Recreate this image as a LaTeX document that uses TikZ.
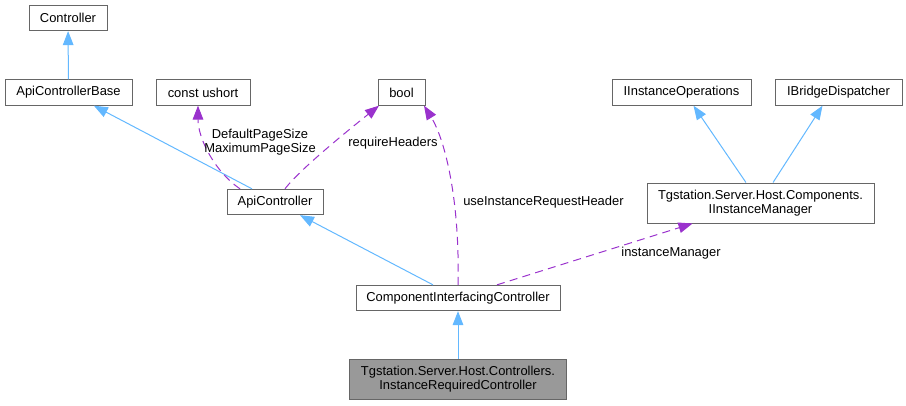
\documentclass[tikz,border=0pt]{standalone}
\usepackage{fontspec}
\setmainfont{Liberation Sans}
\usepackage{tikz}
\usetikzlibrary{arrows.meta}

\definecolor{inhblue}{HTML}{63B8FF}
\definecolor{usepurple}{HTML}{9A32CD}
\definecolor{boxedge}{HTML}{666666}
\definecolor{boxgray}{HTML}{999999}

\begin{document}
\begin{tikzpicture}[
    x=0.75pt, y=-0.75pt,
    font=\fontsize{9.7}{10.6}\selectfont,
    cls/.style={rectangle, draw=boxedge, fill=white, line width=0.75pt, inner sep=0pt, minimum height=19pt, minimum width=#1, align=center},
    cls/.default=60pt,
    tall/.style={minimum height=30pt},
    inh/.style={-{Triangle[length=10.5pt, width=8pt]}, draw=inhblue, line width=0.75pt},
    usage/.style={-{Triangle[length=10.5pt, width=8pt]}, draw=usepurple, line width=0.75pt, dash pattern=on 6pt off 4pt},
    lbl/.style={inner sep=0pt, align=center}
]
\useasboundingbox (0,0) rectangle (906,405);

% Top row
\node[cls=58.5pt] (ctrl) at (68,18) {Controller};
\node[cls=95.25pt] (apibase) at (68.5,92.5) {ApiControllerBase};
\node[cls=70.5pt] (ushort) at (203,92.5) {const ushort};
\node[cls=35.25pt] (bool) at (401.5,92.5) {bool};
\node[cls=104.25pt] (iops) at (681.5,92.5) {IInstanceOperations};
\node[cls=95.25pt] (ibridge) at (838.5,92.5) {IBridgeDispatcher};

% Middle row
\node[cls=72pt] (apictl) at (275,202) {ApiController};
\node[cls=170.25pt, tall] (imgr) at (760.5,203) {Tgstation.Server.Host.Components.\\IInstanceManager};

% Bottom
\node[cls=153pt] (cic) at (458,298) {ComponentInterfacingController};
\node[cls=162.75pt, tall, fill=boxgray] (irc) at (458,379) {Tgstation.Server.Host.Controllers.\\InstanceRequiredController};

% ---- INHERITANCE ----
\draw[inh] (apibase) -- (ctrl);
\draw[inh] ([xshift=-17.25pt]apictl.north) -- ([xshift=19pt]apibase.south);
\draw[inh] ([xshift=-18.75pt]cic.north) -- ([xshift=18.75pt]apictl.south);
\draw[inh] ([xshift=-10.9pt]imgr.north) -- ([xshift=9pt]iops.south);
\draw[inh] ([xshift=9.4pt]imgr.north) -- ([xshift=-12pt]ibridge.south);
\draw[inh] (irc) -- (cic);

% ---- MEMBERS ----
\draw[usage] ([xshift=-26.25pt]apictl.north) .. controls +(-25,-17) and +(0,33) .. ([xshift=-3.75pt]ushort.south);
\draw[usage] ([xshift=7.5pt]apictl.north) .. controls +(15,-20) and +(-25,20) .. ([xshift=-16.9pt]bool.south);
\draw[usage] (cic.north) .. controls +(2,-85) and +(21,34) .. ([xshift=16.9pt]bool.south);
\draw[usage] ([xshift=29.25pt]cic.north) -- ([xshift=-51pt]imgr.south);

% Member labels
\node[lbl] (pagesize) at (260,142) {DefaultPageSize\\MaximumPageSize};
\node[lbl] (reqhdr) at (393,143) {requireHeaders};
\node[lbl, anchor=west] (useinst) at (463,202) {useInstanceRequestHeader};
\node[lbl] (instmgr) at (671,253) {instanceManager};

\end{tikzpicture}
\end{document}
